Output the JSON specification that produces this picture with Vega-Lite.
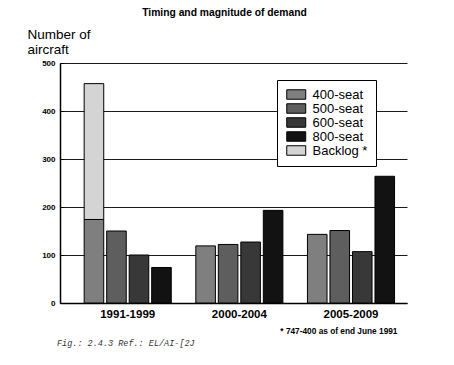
{
  "$schema": "https://vega.github.io/schema/vega-lite/v6.json",
  "width": 347,
  "height": 240,
  "autosize": {"type": "none"},
  "padding": {"left": 60, "top": 63, "right": 47, "bottom": 62},
  "background": "white",
  "config": {
    "view": {"stroke": null},
    "font": "Liberation Sans",
    "axis": {"domainColor": "black", "tickColor": "black", "labelColor": "black", "titleColor": "black"}
  },
  "title": {
    "text": "Fig.: 2.4.3 Ref.: EL/AI-[2J",
    "orient": "bottom",
    "anchor": "start",
    "frame": "group",
    "font": "Liberation Mono",
    "fontStyle": "italic",
    "fontWeight": "normal",
    "fontSize": 8.5,
    "color": "#333333",
    "offset": 5,
    "dx": -3
  },
  "layer": [
    {
      "data": {
        "values": [
          {"period": "1991-1999", "series": "400-seat", "aircraft": 174},
          {"period": "1991-1999", "series": "500-seat", "aircraft": 150},
          {"period": "1991-1999", "series": "600-seat", "aircraft": 100},
          {"period": "1991-1999", "series": "800-seat", "aircraft": 74},
          {"period": "2000-2004", "series": "400-seat", "aircraft": 119},
          {"period": "2000-2004", "series": "500-seat", "aircraft": 122},
          {"period": "2000-2004", "series": "600-seat", "aircraft": 127},
          {"period": "2000-2004", "series": "800-seat", "aircraft": 193},
          {"period": "2005-2009", "series": "400-seat", "aircraft": 143},
          {"period": "2005-2009", "series": "500-seat", "aircraft": 151},
          {"period": "2005-2009", "series": "600-seat", "aircraft": 107},
          {"period": "2005-2009", "series": "800-seat", "aircraft": 264}
        ]
      },
      "mark": {"type": "bar", "stroke": "black", "strokeWidth": 1},
      "encoding": {
        "x": {
          "field": "period",
          "type": "nominal",
          "scale": {"paddingInner": 0.22, "paddingOuter": 0.164, "align": 0.66},
          "axis": {
            "orient": "bottom",
            "title": "* 747-400 as of end June 1991",
            "titleFontSize": 8.3,
            "titleFontWeight": "bold",
            "titleAlign": "right",
            "titleBaseline": "middle",
            "titleX": 337,
            "titleY": 28,
            "labelAngle": 0,
            "labelFontSize": 11.5,
            "labelFontWeight": "bold",
            "labelPadding": 5,
            "ticks": false,
            "domainWidth": 1.5,
            "grid": false
          }
        },
        "xOffset": {
          "field": "series",
          "type": "nominal",
          "scale": {"domain": ["400-seat", "500-seat", "600-seat", "800-seat"], "paddingInner": 0.13, "paddingOuter": 0}
        },
        "y": {
          "field": "aircraft",
          "type": "quantitative",
          "scale": {"domain": [0, 500], "nice": false},
          "axis": {
            "title": ["Number of", "aircraft"],
            "titleAngle": 0,
            "titleAlign": "left",
            "titleBaseline": "alphabetic",
            "titleX": -33,
            "titleY": -25,
            "titleFontSize": 13.5,
            "titleFontWeight": "normal",
            "titleLineHeight": 15.5,
            "values": [0, 50, 100, 150, 200, 250, 300, 350, 400, 450, 500],
            "labelExpr": "datum.value % 100 === 0 ? datum.label : ''",
            "labelFontSize": 8,
            "labelFontWeight": "bold",
            "labelPadding": 9,
            "tickSize": -4,
            "domainWidth": 1.5,
            "grid": true,
            "gridColor": "#1a1a1a",
            "gridWidth": 1,
            "gridOpacity": {"condition": {"test": "datum.value % 100 === 0", "value": 1}, "value": 0}
          }
        },
        "color": {
          "field": "series",
          "type": "nominal",
          "scale": {
            "domain": ["400-seat", "500-seat", "600-seat", "800-seat", "Backlog *"],
            "range": ["#7f7f7f", "#5e5e5e", "#383838", "#121212", "#d4d4d4"]
          },
          "legend": {
            "title": null,
            "orient": "none",
            "legendX": 217,
            "legendY": 17,
            "padding": 8,
            "strokeColor": "black",
            "fillColor": "white",
            "labelFontSize": 13,
            "labelColor": "black",
            "labelOffset": 14.5,
            "rowPadding": -1.2,
            "symbolType": "M-1,-1H3V1H-1Z",
            "symbolSize": 90,
            "symbolStrokeColor": "black",
            "symbolStrokeWidth": 1,
            "symbolOpacity": 1
          }
        }
      }
    },
    {
      "data": {
        "values": [
          {"period": "1991-1999", "series": "Backlog *", "slot": "400-seat", "from": 174, "to": 457}
        ]
      },
      "mark": {"type": "bar", "stroke": "black", "strokeWidth": 1},
      "encoding": {
        "x": {
          "field": "period",
          "type": "nominal",
          "scale": {"paddingInner": 0.22, "paddingOuter": 0.164, "align": 0.66},
          "axis": {
            "orient": "top",
            "title": "Timing and magnitude of demand",
            "titleFontSize": 10.3,
            "titleFontWeight": "bold",
            "titleAlign": "center",
            "titleBaseline": "middle",
            "titleX": 164,
            "titleY": -51,
            "labels": false,
            "ticks": false,
            "domain": false,
            "grid": false
          }
        },
        "xOffset": {
          "field": "slot",
          "type": "nominal",
          "scale": {"domain": ["400-seat", "500-seat", "600-seat", "800-seat"], "paddingInner": 0.13, "paddingOuter": 0}
        },
        "y": {"field": "from", "type": "quantitative"},
        "y2": {"field": "to"},
        "color": {"field": "series", "type": "nominal"}
      }
    }
  ],
  "resolve": {"axis": {"x": "independent"}}
}
